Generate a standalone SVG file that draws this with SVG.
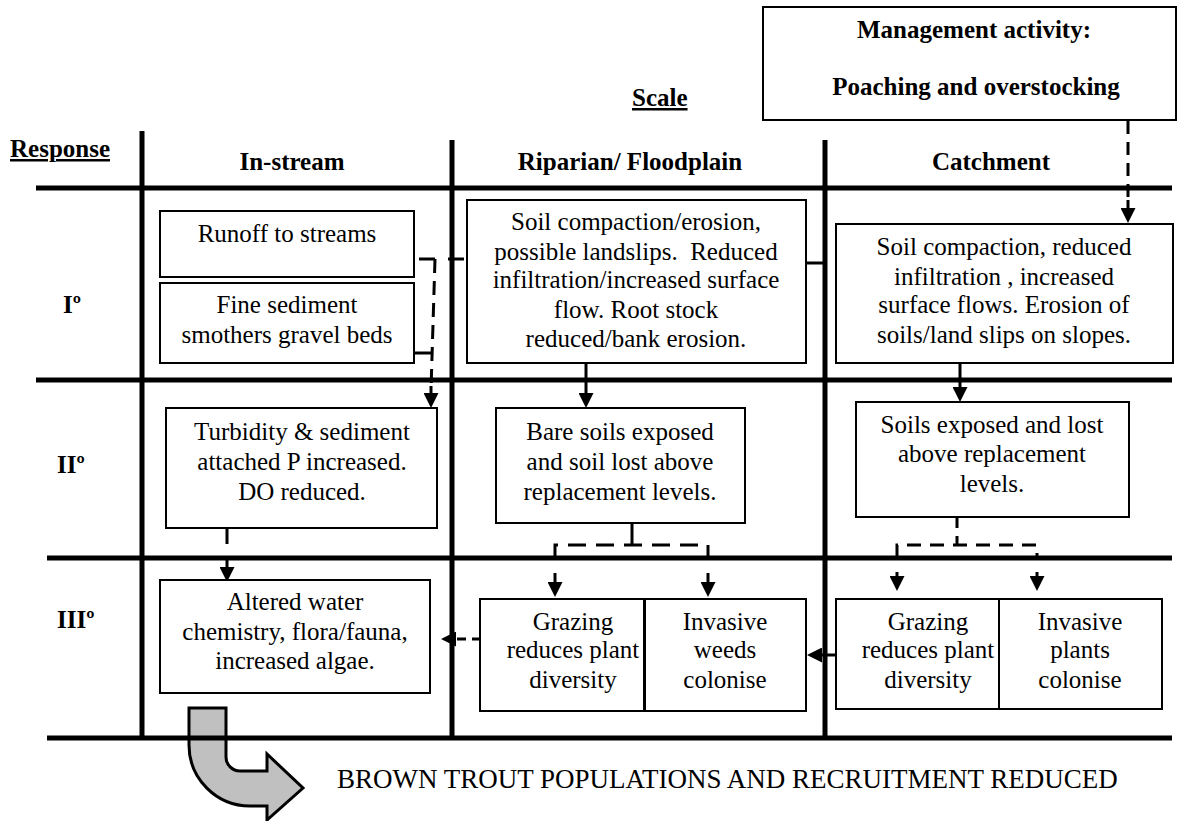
<svg xmlns="http://www.w3.org/2000/svg" width="1182" height="821" viewBox="0 0 1182 821">
<style>
.grid{stroke:#000;stroke-width:5;fill:none}
.box{fill:#fff;stroke:#000;stroke-width:2}
.t{font-family:"Liberation Serif","Times New Roman",serif;font-size:25px;text-anchor:middle;fill:#000}
.b{font-weight:bold}
.u{text-decoration:underline}
.l{text-anchor:start}
.dash{stroke:#000;stroke-width:3;fill:none;stroke-dasharray:14 8}
.solid{stroke:#000;stroke-width:3;fill:none}
</style>
<defs>
<marker id="ah" viewBox="0 0 15 15" markerWidth="15" markerHeight="15" refX="0" refY="7.5" orient="auto" markerUnits="userSpaceOnUse">
<path d="M0,0 L15,7.5 L0,15 Z" fill="#000"/>
</marker>
</defs>
<rect width="1182" height="821" fill="#fff"/>

<g id="big-arrow">
<path d="M189,708 H226 V757 A14,14 0 0 0 240,771 H267 V754 L303,788 L267,820 V806 H250 A61,61 0 0 1 189,745 Z" fill="#c0c0c0" stroke="#000" stroke-width="3"/>
</g>

<g id="grid">
<line class="grid" x1="142" y1="131" x2="142" y2="740"/>
<line class="grid" x1="452" y1="140" x2="452" y2="740"/>
<line class="grid" x1="825" y1="140" x2="825" y2="740"/>
<line class="grid" x1="36" y1="188" x2="1172" y2="188"/>
<line class="grid" x1="36" y1="380" x2="1172" y2="380"/>
<line class="grid" x1="47" y1="558" x2="1172" y2="558"/>
<line class="grid" x1="47" y1="738" x2="1172" y2="738"/>
</g>

<g id="labels">
<text class="t b u l" x="10" y="157">Response</text>
<text class="t b u l" x="632" y="106">Scale</text>
<text class="t b" x="292" y="170">In-stream</text>
<text class="t b" x="630" y="170">Riparian/ Floodplain</text>
<text class="t b" x="991" y="170">Catchment</text>
<text class="t b l" x="63" y="313">Iº</text>
<text class="t b l" x="57" y="473">IIº</text>
<text class="t b l" x="57" y="628">IIIº</text>
<text class="t l" x="337" y="788" style="font-size:27px">BROWN TROUT POPULATIONS AND RECRUITMENT REDUCED</text>
</g>

<g id="connectors">
<path class="dash" d="M1128,121 V200" style="stroke-dasharray:13 8"/>
<path class="solid" d="M1128,200 V208" marker-end="url(#ah)"/>
<path class="dash" d="M419,259 H465" style="stroke-dasharray:16 13"/>
<path class="dash" d="M435,259 L431,390"/>
<path class="solid" d="M431,386 V393" marker-end="url(#ah)"/>
<path class="solid" d="M413,353 H431"/>
<path class="solid" d="M586,364 V393" marker-end="url(#ah)"/>
<path class="solid" d="M807,263 H824"/>
<path class="solid" d="M960,364 V387" marker-end="url(#ah)"/>
<path class="dash" d="M227,529 V567" style="stroke-dasharray:15 14" marker-end="url(#ah)"/>
<path class="solid" d="M632,524 V545"/>
<path class="dash" d="M555,560 V545 H708 V560" style="stroke-dasharray:18 10"/>
<path class="solid" d="M555,573 V582" marker-end="url(#ah)"/>
<path class="solid" d="M708,573 V582" marker-end="url(#ah)"/>
<path class="dash" d="M957,518 V545" style="stroke-dasharray:10 8"/>
<path class="dash" d="M897,558 V545 H1037 V558" style="stroke-dasharray:14 9"/>
<path class="solid" d="M897,572 V576" marker-end="url(#ah)"/>
<path class="solid" d="M1037,572 V576" marker-end="url(#ah)"/>
<path class="dash" d="M481,639 H456" style="stroke-dasharray:9 6" marker-end="url(#ah)"/>
<path class="solid" d="M836,655 H822" marker-end="url(#ah)"/>
</g>

<g id="mgmt">
<rect class="box" x="763" y="7" width="413" height="113"/>
<text class="t b" x="974" y="38">Management activity:</text>
<text class="t b" x="976" y="95">Poaching and overstocking</text>
</g>

<g id="runoff">
<rect class="box" x="160" y="211" width="254" height="66"/>
<text class="t" x="287" y="242">Runoff to streams</text>
</g>

<g id="fine-sediment">
<rect class="box" x="160" y="283" width="254" height="80"/>
<text class="t" x="287" y="313">Fine sediment</text>
<text class="t" x="287" y="343">smothers gravel beds</text>
</g>

<g id="riparian-soil">
<rect class="box" x="467" y="200" width="339" height="163"/>
<text class="t" x="636" y="230">Soil compaction/erosion,</text>
<text class="t" x="636" y="260" xml:space="preserve">possible landslips.  Reduced</text>
<text class="t" x="636" y="288">infiltration/increased surface</text>
<text class="t" x="636" y="318">flow. Root stock</text>
<text class="t" x="636" y="347">reduced/bank erosion.</text>
</g>

<g id="catchment-soil">
<rect class="box" x="836" y="224" width="337" height="139"/>
<text class="t" x="1004" y="255">Soil compaction, reduced</text>
<text class="t" x="1004" y="285">infiltration , increased</text>
<text class="t" x="1004" y="313">surface flows. Erosion of</text>
<text class="t" x="1004" y="343">soils/land slips on slopes.</text>
</g>

<g id="turbidity">
<rect class="box" x="166" y="408" width="271" height="120"/>
<text class="t" x="302" y="440">Turbidity &amp; sediment</text>
<text class="t" x="302" y="470">attached P increased.</text>
<text class="t" x="302" y="500">DO reduced.</text>
</g>

<g id="bare-soils">
<rect class="box" x="496" y="408" width="249" height="115"/>
<text class="t" x="620" y="440">Bare soils exposed</text>
<text class="t" x="620" y="470">and soil lost above</text>
<text class="t" x="620" y="500">replacement levels.</text>
</g>

<g id="soils-exposed">
<rect class="box" x="856" y="402" width="273" height="115"/>
<text class="t" x="992" y="433">Soils exposed and lost</text>
<text class="t" x="992" y="462">above replacement</text>
<text class="t" x="992" y="492">levels.</text>
</g>

<g id="altered">
<rect class="box" x="160" y="580" width="270" height="113"/>
<text class="t" x="295" y="610">Altered water</text>
<text class="t" x="295" y="640">chemistry, flora/fauna,</text>
<text class="t" x="295" y="669">increased algae.</text>
</g>

<g id="grazing-riparian">
<rect class="box" x="480" y="599" width="165" height="112"/>
<text class="t" x="573" y="630">Grazing</text>
<text class="t" x="573" y="658">reduces plant</text>
<text class="t" x="573" y="688">diversity</text>
</g>

<g id="weeds-riparian">
<rect class="box" x="644" y="599" width="162" height="112" style="fill:none"/>
<text class="t" x="725" y="630">Invasive</text>
<text class="t" x="725" y="658">weeds</text>
<text class="t" x="725" y="688">colonise</text>
</g>

<g id="grazing-catchment">
<rect class="box" x="836" y="599" width="163" height="110"/>
<text class="t" x="928" y="630">Grazing</text>
<text class="t" x="928" y="658">reduces plant</text>
<text class="t" x="928" y="688">diversity</text>
</g>

<g id="plants-catchment">
<rect class="box" x="999" y="599" width="163" height="110" style="fill:none"/>
<text class="t" x="1080" y="630">Invasive</text>
<text class="t" x="1080" y="658">plants</text>
<text class="t" x="1080" y="688">colonise</text>
</g>
</svg>
